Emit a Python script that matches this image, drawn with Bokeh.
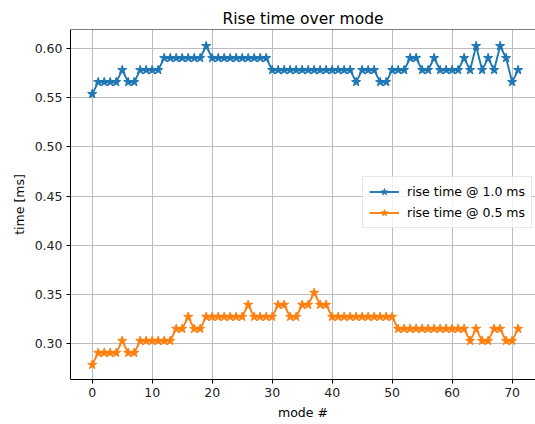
from bokeh.plotting import figure
from bokeh.models import Legend, LegendItem, Span, FixedTicker, NumeralTickFormatter
from bokeh.embed import file_html
from bokeh.resources import INLINE

modes = list(range(72))
rise_1_0 = [0.5537, 0.5659, 0.5659, 0.5659, 0.5659, 0.5781, 0.5659, 0.5659,
            0.5781, 0.5781, 0.5781, 0.5781,
            0.5903, 0.5903, 0.5903, 0.5903, 0.5903, 0.5903, 0.5903,
            0.6025,
            0.5903, 0.5903, 0.5903, 0.5903, 0.5903, 0.5903, 0.5903, 0.5903, 0.5903, 0.5903,
            0.5781, 0.5781, 0.5781, 0.5781, 0.5781, 0.5781, 0.5781, 0.5781, 0.5781, 0.5781,
            0.5781, 0.5781, 0.5781, 0.5781,
            0.5659, 0.5781, 0.5781, 0.5781, 0.5659, 0.5659,
            0.5781, 0.5781, 0.5781, 0.5903, 0.5903, 0.5781, 0.5781, 0.5903,
            0.5781, 0.5781, 0.5781, 0.5781, 0.5903, 0.5781, 0.6025, 0.5781,
            0.5903, 0.5781, 0.6025, 0.5903, 0.5659, 0.5781]
rise_0_5 = [0.2786, 0.2908, 0.2908, 0.2908, 0.2908, 0.3030, 0.2908, 0.2908,
            0.3030, 0.3030, 0.3030, 0.3030, 0.3030, 0.3030,
            0.3152, 0.3152, 0.3274, 0.3152, 0.3152,
            0.3274, 0.3274, 0.3274, 0.3274, 0.3274, 0.3274, 0.3274,
            0.3396, 0.3274, 0.3274, 0.3274, 0.3274,
            0.3396, 0.3396, 0.3274, 0.3274, 0.3396, 0.3396, 0.3518, 0.3396, 0.3396,
            0.3274, 0.3274, 0.3274, 0.3274, 0.3274, 0.3274, 0.3274, 0.3274, 0.3274, 0.3274, 0.3274,
            0.3152, 0.3152, 0.3152, 0.3152, 0.3152, 0.3152, 0.3152, 0.3152, 0.3152, 0.3152, 0.3152, 0.3152,
            0.3030, 0.3152, 0.3030, 0.3030, 0.3152, 0.3152, 0.3030, 0.3030, 0.3152]
x_ticks = [0, 10, 20, 30, 40, 50, 60, 70]
y_ticks = [0.30, 0.35, 0.40, 0.45, 0.50, 0.55, 0.60]
labels = ["rise time @ 1.0 ms", "rise time @ 0.5 ms"]
colors = ["#1f77b4", "#ff7f0e"]

FONT = "DejaVu Sans"
y_lo, y_hi = 0.2637, 0.6193

p = figure(width=535, height=424, output_backend="svg", toolbar_location=None,
           x_range=(-3.62, 73.9), y_range=(y_lo, y_hi),
           min_border_left=70, min_border_right=0, min_border_top=29, min_border_bottom=45,
           title="Rise time over mode")
p.title.align = "center"
p.title.text_font = FONT
p.title.text_font_size = "15.5px"
p.title.text_font_style = "normal"
p.title.text_color = "#000000"
p.title.standoff = 4
p.outline_line_color = None
p.background_fill_color = "white"
p.border_fill_color = "white"

for ax in (p.xaxis[0], p.yaxis[0]):
    ax.axis_line_color = "black"
    ax.axis_line_width = 1
    ax.major_tick_line_color = "black"
    ax.major_tick_out = 4
    ax.major_tick_in = 0
    ax.minor_tick_line_color = None
    ax.major_label_text_font = FONT
    ax.major_label_text_font_size = "12.5px"
    ax.major_label_text_color = "#222222"
    ax.axis_label_text_font = FONT
    ax.axis_label_text_font_size = "12.5px"
    ax.axis_label_text_font_style = "normal"
    ax.axis_label_text_color = "#000000"
    ax.major_label_standoff = 4
    ax.axis_label_standoff = 5

p.xaxis.ticker = FixedTicker(ticks=x_ticks)
p.yaxis.ticker = FixedTicker(ticks=y_ticks)
p.yaxis.formatter = NumeralTickFormatter(format="0.00")
p.xaxis.axis_label = "mode #"
p.yaxis.axis_label = "time [ms]"

p.xgrid.ticker = FixedTicker(ticks=x_ticks)
p.ygrid.ticker = FixedTicker(ticks=y_ticks)
for g in (p.xgrid[0], p.ygrid[0]):
    g.grid_line_color = "#bcbcbc"
    g.grid_line_width = 1

p.add_layout(Span(location=y_hi, dimension="width", line_color="black", line_width=1))

items = []
for ys, lab, col in zip([rise_1_0, rise_0_5], labels, colors):
    l = p.line(modes, ys, line_color=col, line_width=1.9)
    s = p.scatter(modes, ys, marker="star", size=9.5, fill_color=col, line_color=col)
    items.append(LegendItem(label=lab, renderers=[l, s]))

legend = Legend(items=items, location=(292, 151))
legend.label_text_font = FONT
legend.label_text_font_size = "12.5px"
legend.label_text_color = "#000000"
legend.glyph_width = 30
legend.glyph_height = 17
legend.label_standoff = 8
legend.padding = 6
legend.spacing = 4
legend.margin = 0
legend.border_line_color = "#d0d0d0"
legend.background_fill_alpha = 0.8
p.add_layout(legend)

open("out.html", "w").write(file_html(p, INLINE))
